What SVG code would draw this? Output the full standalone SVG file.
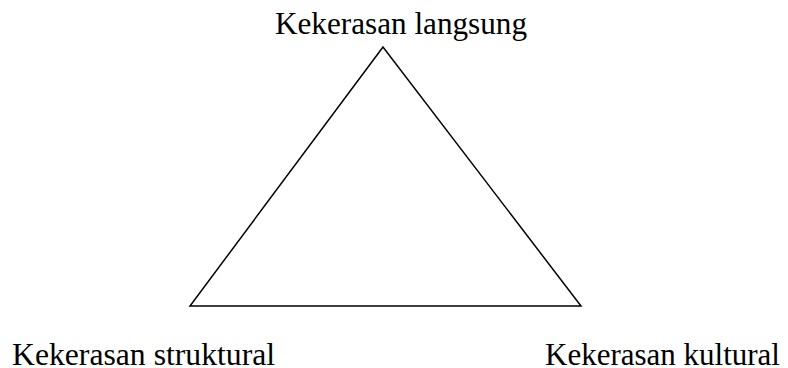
<svg xmlns="http://www.w3.org/2000/svg" width="788" height="368" viewBox="0 0 788 368">
<style>
.lbl{font-family:"Liberation Serif","Times New Roman",serif;font-size:32px;fill:#000}
.edge{fill:none;stroke:#000;stroke-width:1.5;stroke-linejoin:miter}
</style>
<rect width="788" height="368" fill="#fff"/>
<g id="connectors">
<polygon class="edge" points="383,47 190,306 581,306"/>
</g>
<g id="node-langsung"><text class="lbl" x="275" y="34" style="font-size:31.2px">Kekerasan langsung</text></g>
<g id="node-struktural"><text class="lbl" x="12" y="365" style="font-size:31.7px">Kekerasan struktural</text></g>
<g id="node-kultural"><text class="lbl" x="545" y="365" style="font-size:31px">Kekerasan kultural</text></g>
</svg>
